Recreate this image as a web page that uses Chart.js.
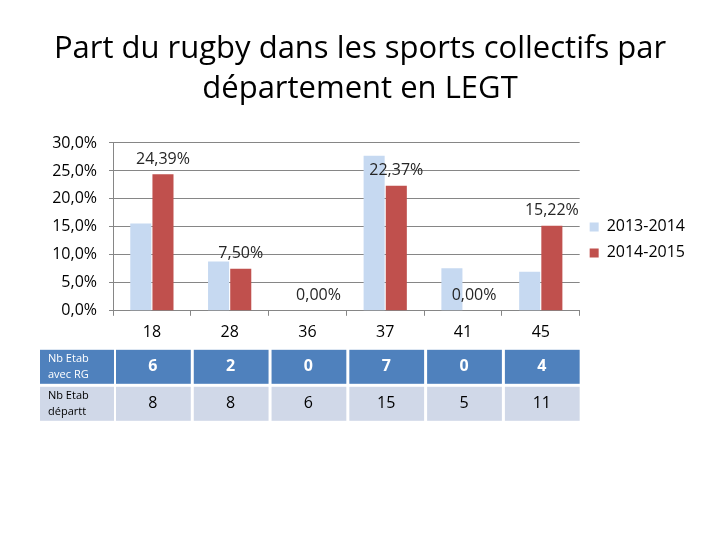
<!DOCTYPE html>
<html>
<head>
<meta charset="utf-8">
<script src="https://cdn.jsdelivr.net/npm/chart.js@4.4.0/dist/chart.umd.min.js"></script>
<style>
  html, body { margin: 0; padding: 0; background: #fff; }
  #wrap { width: 720px; height: 540px; }
</style>
</head>
<body>
<div id="wrap"><canvas id="rugby-chart" width="720" height="540"></canvas></div>
<script>
const categories = ['18', '28', '36', '37', '41', '45']
const part2013 = [15.6, 8.8, 0, 27.7, 7.6, 7.0]
const part2014 = [24.39, 7.50, 0, 22.37, 0, 15.22]
const rowLabels = [['Nb Etab', 'avec RG'], ['Nb Etab', 'départt']]
const nbEtabRG = [6, 2, 0, 7, 0, 4]
const nbEtabDept = [8, 8, 6, 15, 5, 11]

const FONT = "'Open Sans', sans-serif"
const GRID = '#868686'

// valeurs au-dessus des barres 2014-2015
const dataLabels = {
    id: 'dataLabels',
    afterDatasetsDraw(chart) {
        const ctx = chart.ctx
        const meta = chart.getDatasetMeta(1)
        ctx.save()
        ctx.font = '16px ' + FONT
        ctx.fillStyle = '#262626'
        ctx.textAlign = 'center'
        ctx.textBaseline = 'middle'
        meta.data.forEach((bar, i) => {
            ctx.fillText(part2014[i].toFixed(2).replace('.', ',') + '%', bar.x, bar.y - 15)
        })
        ctx.restore()
    }
}

// tableau sous l'axe des x, aligné sur les catégories
const dataTable = {
    id: 'dataTable',
    afterDraw(chart) {
        const ctx = chart.ctx
        const x = chart.scales.x
        const w = (x.right - x.left) / categories.length
        const rows = [nbEtabRG, nbEtabDept]
        const bg = ['#4F81BD', '#D0D8E8']
        const fg = ['#ffffff', '#000000']
        ctx.save()
        rows.forEach((row, r) => {
            const top = chart.chartArea.bottom + 39 + r * 37
            const h = 34
            ctx.fillStyle = bg[r]
            ctx.fillRect(40, top, x.left + 1 - 40, h)
            ctx.fillStyle = fg[r]
            ctx.font = '11px ' + FONT
            ctx.textAlign = 'left'
            ctx.textBaseline = 'middle'
            ctx.fillText(rowLabels[r][0], 48, top + 9)
            ctx.fillText(rowLabels[r][1], 48, top + 25)
            row.forEach((v, i) => {
                const l = x.left + i * w + 3
                ctx.fillStyle = bg[r]
                ctx.fillRect(l, top, w - 3, h)
                ctx.fillStyle = fg[r]
                ctx.font = (r == 0 ? 'bold ' : '') + '16px ' + FONT
                ctx.textAlign = 'center'
                ctx.fillText(String(v), x.getPixelForTick(i) + 1, top + h / 2)
            })
        })
        ctx.restore()
    }
}

new Chart(document.getElementById('rugby-chart'), {
    type: 'bar',
    data: {
        labels: categories,
        datasets: [
            {
                label: '2013-2014',
                data: part2013,
                backgroundColor: '#C6D9F1',
                borderWidth: 0
            },
            {
                label: '2014-2015',
                data: part2014,
                backgroundColor: '#C0504D',
                borderWidth: 0
            }
        ]
    },
    options: {
        responsive: false,
        animation: false,
        categoryPercentage: 0.57,
        barPercentage: 0.95,
        layout: {
            padding: { left: 25, right: 25, top: 0, bottom: 191 }
        },
        plugins: {
            tooltip: { enabled: false },
            title: {
                display: true,
                text: ['Part du rugby dans les sports collectifs par', 'département en LEGT'],
                color: '#000',
                font: { family: FONT, size: 31, weight: 'normal', lineHeight: 1.29 },
                padding: { top: 29, bottom: 34 }
            },
            legend: {
                position: 'right',
                fullSize: false,
                title: {
                    display: true,
                    text: ' ',
                    font: { size: 10 },
                    padding: 7
                },
                labels: {
                    boxWidth: 9,
                    boxHeight: 9,
                    padding: 10,
                    color: '#000',
                    font: { family: FONT, size: 16 }
                }
            }
        },
        scales: {
            x: {
                grid: {
                    offset: true,
                    drawOnChartArea: false,
                    tickLength: 5,
                    color: GRID
                },
                border: { color: GRID },
                ticks: {
                    color: '#000',
                    padding: 7,
                    font: { family: FONT, size: 16 }
                }
            },
            y: {
                min: 0,
                max: 30,
                afterFit: function (scale) {
                    scale.width = 88
                },
                ticks: {
                    stepSize: 5,
                    color: '#000',
                    padding: 12,
                    font: { family: FONT, size: 16 },
                    callback: function (value) {
                        return value.toFixed(1).replace('.', ',') + '%'
                    }
                },
                grid: { color: GRID, tickLength: 4 },
                border: { color: GRID }
            }
        }
    },
    plugins: [dataLabels, dataTable]
})
</script>
</body>
</html>
